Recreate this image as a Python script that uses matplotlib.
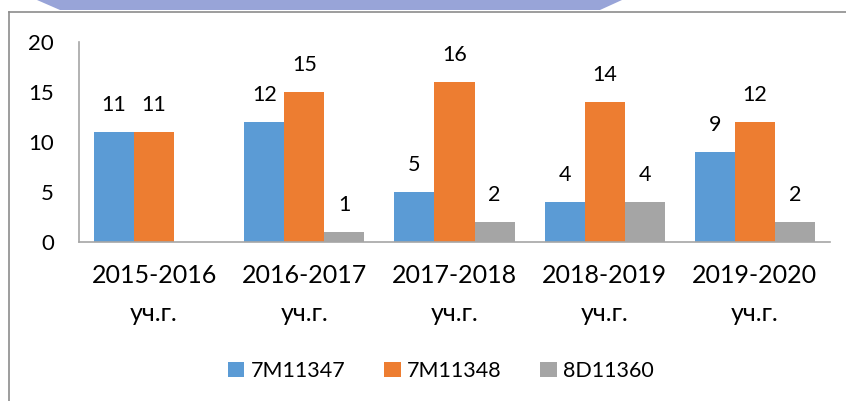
import numpy as np
import matplotlib
matplotlib.use("Agg")
import matplotlib.pyplot as plt
from matplotlib.patches import Polygon

# data
years = ["2015-2016\nуч.г.", "2016-2017\nуч.г.", "2017-2018\nуч.г.",
         "2018-2019\nуч.г.", "2019-2020\nуч.г."]
series_names = ["7M11347", "7M11348", "8D11360"]
s_7m11347 = [11, 12, 5, 4, 9]
s_7m11348 = [11, 15, 16, 14, 12]
s_8d11360 = [0, 1, 2, 4, 2]
colors = ["#5B9BD5", "#ED7D31", "#A5A5A5"]

plt.rcParams['font.family'] = ['Lato', 'DejaVu Sans']

W, H = 846, 401
fig = plt.figure(figsize=(W / 100, H / 100), dpi=100)

# page decoration: header band and frame of the document
def px(x, y):
    return (x / W, 1 - y / H)

band = Polygon([px(37, 0), px(622, 0), px(600, 10), px(60, 10)],
               closed=True, transform=fig.transFigure, facecolor="#98A4D8",
               edgecolor="none")
fig.patches.append(band)
# white highlight in the middle of the band
hl = fig.add_axes([215 / W, 1 - 10 / H, 230 / W, 10 / H])
xs = np.linspace(0, 1, 230)
alpha = np.clip(np.minimum((xs - 0.0) / 0.25, (1.0 - xs) / 0.12), 0, 1) ** 0.7
img = np.ones((1, 230, 4))
img[..., 3] = alpha
hl.imshow(img, aspect="auto", extent=[0, 1, 0, 1])
hl.set_axis_off()

fig.add_artist(plt.Line2D([9 / W, 1], [1 - 11.5 / H, 1 - 11.5 / H],
                          transform=fig.transFigure, color="#8C8C8C", lw=1.2))
fig.add_artist(plt.Line2D([9 / W, 9 / W], [0, 1 - 11.5 / H],
                          transform=fig.transFigure, color="#8C8C8C", lw=1.2))

# chart
ax = fig.add_axes([79 / W, 1 - 242 / H, (830 - 79) / W, 200 / H])
x = np.arange(len(years))
bw = 0.2667
all_series = [s_7m11347, s_7m11348, s_8d11360]
for i, (vals, name, c) in enumerate(zip(all_series, series_names, colors)):
    bars = ax.bar(x + (i - 1) * bw, vals, bw, color=c, label=name)
    for b, v in zip(bars, vals):
        if v == 0:
            continue
        ax.annotate(str(v), (b.get_x() + b.get_width() / 2, v),
                    xytext=(0, 12), textcoords="offset points",
                    ha="center", va="bottom", fontsize=15.5, color="#000000")

ax.set_xlim(-0.5, 4.5)
ax.set_ylim(0, 20)
ax.set_yticks([0, 5, 10, 15, 20])
ax.set_xticks(x)
ax.set_xticklabels(years, fontsize=18, linespacing=1.8)
ax.tick_params(axis="y", labelsize=16, length=0, pad=18)
ax.tick_params(axis="x", length=0, pad=16)
for s in ["top", "right"]:
    ax.spines[s].set_visible(False)
for s in ["left", "bottom"]:
    ax.spines[s].set_color("#A6A6A6")
    ax.spines[s].set_linewidth(1.2)

fig.legend(loc="center", bbox_to_anchor=(441 / W, 1 - 371 / H), ncol=3,
           frameon=False, fontsize=15.5, handlelength=0.75, handleheight=0.75,
           handletextpad=0.3, columnspacing=1.8)

fig.savefig("out.png", dpi=100)
